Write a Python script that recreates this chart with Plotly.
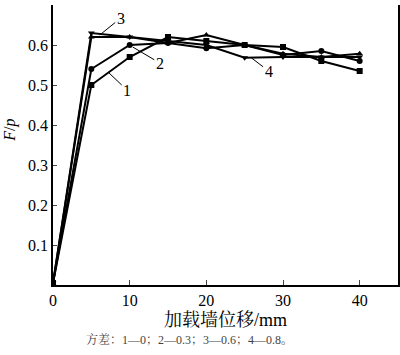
import plotly.graph_objects as go

x_disp = [0, 5, 10, 15, 20, 25, 30, 35, 40]
s1 = [0.005, 0.50, 0.57, 0.62, 0.61, 0.60, 0.595, 0.56, 0.535]
s2 = [0.005, 0.54, 0.60, 0.605, 0.592, 0.60, 0.575, 0.585, 0.56]
s3 = [0.005, 0.62, 0.62, 0.605, 0.625, 0.60, 0.578, 0.57, 0.578]
s4 = [0.005, 0.63, 0.62, 0.61, 0.60, 0.568, 0.57, 0.57, 0.57]
series = [("1", s1, "square"), ("2", s2, "circle"), ("3", s3, "triangle-up"), ("4", s4, "triangle-down")]

x_ticks = [0, 10, 20, 30, 40]
y_ticks = [0.1, 0.2, 0.3, 0.4, 0.5, 0.6, 0.7]

FONT = "Liberation Serif, Noto Serif CJK SC, Noto Sans CJK SC, serif"
SERIF = "Liberation Serif"

fig = go.Figure()
for name, ys, sym in series:
    fig.add_trace(go.Scatter(x=x_disp, y=ys, mode="lines+markers", name=name,
                             line=dict(color="black", width=2),
                             marker=dict(symbol=sym, size=6, color="black"),
                             showlegend=False, hoverinfo="skip"))

labels = [("1", 7.2, 0.532, 19, 18), ("2", 10.4, 0.595, 27, 16),
          ("3", 6.1, 0.625, 21, -17), ("4", 25.9, 0.5675, 17, 13)]
for t, ax_, ay_, dx, dy in labels:
    fig.add_annotation(x=ax_, y=ay_, xref="x", yref="y", text=t, showarrow=True,
                       arrowhead=0, arrowwidth=1, arrowcolor="black", ax=dx, ay=dy,
                       standoff=0, font=dict(family=FONT, size=16, color="black"))

fig.add_annotation(x=0.5, y=-0.125, xref="paper", yref="paper", showarrow=False,
                   text="加载墙位移/mm", yanchor="middle",
                   font=dict(family=FONT, size=18, color="black"))
fig.add_annotation(x=-0.125, y=0.554, xref="paper", yref="paper", showarrow=False,
                   text="<i>F</i>/<i>p</i>", textangle=-90, xanchor="center", yanchor="middle",
                   font=dict(family=FONT, size=16, color="black"))
fig.add_annotation(x=0.397, y=-0.196, xref="paper", yref="paper", showarrow=False,
                   text="方差：1—0；2—0.3；3—0.6；4—0.8。", yanchor="middle",
                   font=dict(family=FONT, size=12, color="#444"))

tickfont = dict(family=SERIF, size=16, color="black")
fig.update_layout(
    width=400, height=355,
    margin=dict(l=53, r=2, t=5, b=70, autoexpand=False),
    plot_bgcolor="white", paper_bgcolor="white",
    font=dict(family=FONT, size=16, color="black"),
    xaxis=dict(range=[0, 45], tickvals=x_ticks, ticks="inside", ticklen=5,
               showline=True, linecolor="black", linewidth=1.5, showgrid=False,
               zeroline=False, mirror=False, automargin=False, tickfont=tickfont),
    yaxis=dict(range=[0, 0.7], tickvals=y_ticks, ticks="inside", ticklen=4,
               showline=True, linecolor="black", linewidth=1.5, showgrid=False,
               zeroline=False, mirror=True, tickformat=".1f", automargin=False,
               tickfont=tickfont),
)

post = """
document.body.style.margin='0';
document.body.style.overflow='hidden';
var gd=document.getElementById('{plot_id}');
Plotly.relayout(gd,{width:400,height:355});
"""
fig.write_html("out.html", post_script=post, config={"displayModeBar": False})
